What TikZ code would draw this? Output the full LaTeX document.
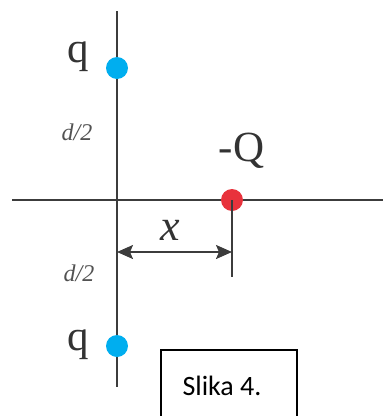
\documentclass[tikz,border=0pt]{standalone}
\usepackage{fontspec}
\setmainfont{Liberation Serif}
\newfontfamily\calib{Carlito}
\usetikzlibrary{arrows.meta}
\definecolor{axisgray}{HTML}{3C3C3C}
\definecolor{txtgray}{HTML}{333333}
\definecolor{qblue}{HTML}{00AEEF}
\definecolor{qred}{HTML}{E8323C}
\tikzset{
  axis/.style={draw=axisgray, line width=2.2pt},
  charge/.style={circle, inner sep=0pt, minimum size=22pt},
  bigtxt/.style={inner sep=0pt, anchor=base, text=txtgray, font=\fontsize{43}{43}\selectfont},
  smalltxt/.style={inner sep=0pt, anchor=base, text=txtgray!85, font=\fontsize{24}{24}\selectfont\itshape},
  dimline/.style={draw=axisgray, line width=1.9pt, {Stealth[length=16pt,width=14pt,inset=3pt]}-{Stealth[length=16pt,width=14pt,inset=3pt]}},
}
\begin{document}
\begin{tikzpicture}[x=1pt,y=-1pt]
\useasboundingbox (0,0) rectangle (383,416);
\clip (0,0) rectangle (383,416);
% axes
\coordinate (vtop) at (117,11);
\coordinate (vbot) at (117,387);
\coordinate (hl) at (12,200);
\coordinate (hr) at (383,200);
\draw[axis] (vtop) -- (vbot);
\draw[axis] (hl) -- (hr);
% charges
\node[charge, fill=qblue] (q1) at (117,68) {};
\node[charge, fill=qblue] (q2) at (117,346) {};
\node[charge, fill=qred] (Q) at (232,200) {};
% tick below -Q
\coordinate (tickend) at (232,277);
\draw[axis, line width=1.9pt] (Q.center) -- (tickend);
% dimension arrow
\coordinate (dl) at (117,252);
\coordinate (dr) at (232,252);
\draw[dimline] (dl) -- (dr);
% labels
\node[bigtxt] (lq1) at (78,62) {q};
\node[bigtxt] (lq2) at (78,350) {q};
\node[bigtxt] (lQ) at (241.5,161) {-Q};
\node[bigtxt, font=\fontsize{44}{44}\selectfont\itshape] (lx) at (170,240) {x};
\node[smalltxt] (ld1) at (77,140) {d/2};
\node[smalltxt] (ld2) at (79,281) {d/2};
% caption box
\draw[line width=1.3pt, black] (161,350) rectangle (297,430);
\node[inner sep=0pt, anchor=base, font=\calib\fontsize{28}{28}\selectfont] (cap) at (222,395) {Slika 4.};
\end{tikzpicture}
\end{document}
